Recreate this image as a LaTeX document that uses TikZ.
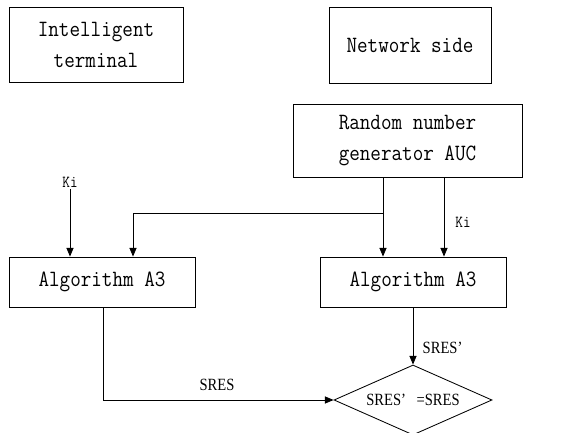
\documentclass[tikz,border=0pt]{standalone}
\usepackage{fontspec}
\usepackage{tikz}
\usetikzlibrary{arrows.meta,positioning,calc,shapes.geometric}
\newfontfamily\sresfont[FakeStretch=0.85]{Liberation Serif}
\newfontfamily\boxfont[FakeStretch=0.88]{Latin Modern Mono}
\tikzset{
  blk/.style   ={draw, line width=0.6pt, align=center, inner sep=0pt,
                 font=\boxfont\fontsize{16.6}{22}\selectfont},
  alg/.style   ={blk, minimum width=46.5mm, minimum height=12.5mm},
  cmpbox/.style={draw, line width=0.6pt, diamond, shape aspect=2.26, inner sep=0pt,
                 minimum width=39.5mm, minimum height=17.5mm,
                 font=\sresfont\fontsize{12.2}{14}\selectfont},
  fl/.style    ={line width=0.6pt, -{Triangle[length=2.2mm,width=1.8mm]}},
  ki/.style    ={font=\boxfont\fontsize{12}{14}\selectfont, inner sep=1pt},
  sig/.style   ={font=\sresfont\fontsize{12.2}{14}\selectfont, inner sep=1pt},
}

\begin{document}
\begin{tikzpicture}[x=0.25mm,y=-0.25mm]
  \useasboundingbox (0,0) rectangle (579,433);
  \node[blk,minimum width=43.5mm,minimum height=18.75mm] (term) at (96,45) {Intelligent\\terminal};
  \node[blk,minimum width=40.5mm,minimum height=19mm] (net) at (410,45) {Network side};
  \node[blk,minimum width=57.25mm,minimum height=18.25mm] (rng) at (407.5,140.5) {Random number\\generator AUC};
  \node[alg] (algL) at (102,282) {Algorithm A3};
  \node[alg] (algR) at (413,282) {Algorithm A3};
  \node[cmpbox] (cmp) at (413,400) {SRES’\hspace{5pt}\ =SRES};
  % taps under the generator
  \path (rng.south) ++(-24.5,0) coordinate (tap1);
  \path (rng.south) ++(36.5,0) coordinate (tap2);
  \coordinate (br) at (133,213);
  \draw[fl] (tap1) -- (tap1 |- algR.north);
  \draw[fl] (tap2) -- (tap2 |- algR.north);
  \draw[fl] (tap1 |- br) -- (br) -- (br |- algL.north);
  \node[ki] (kiL) at (70,182) {Ki};
  \draw[fl] (kiL) -- (kiL |- algL.north);
  \node[ki] (kiR) at (463,222) {Ki};
  \draw[fl] (algR) -- (cmp.north);
  \node[sig,anchor=west] (sresR) at (421,348) {SRES’};
  \coordinate (bend) at (103,400);
  \draw[fl] (algL.south -| bend) -- (bend) -- (cmp.west);
  \node[sig] (sresL) at (217,385) {SRES};
\end{tikzpicture}
\end{document}
